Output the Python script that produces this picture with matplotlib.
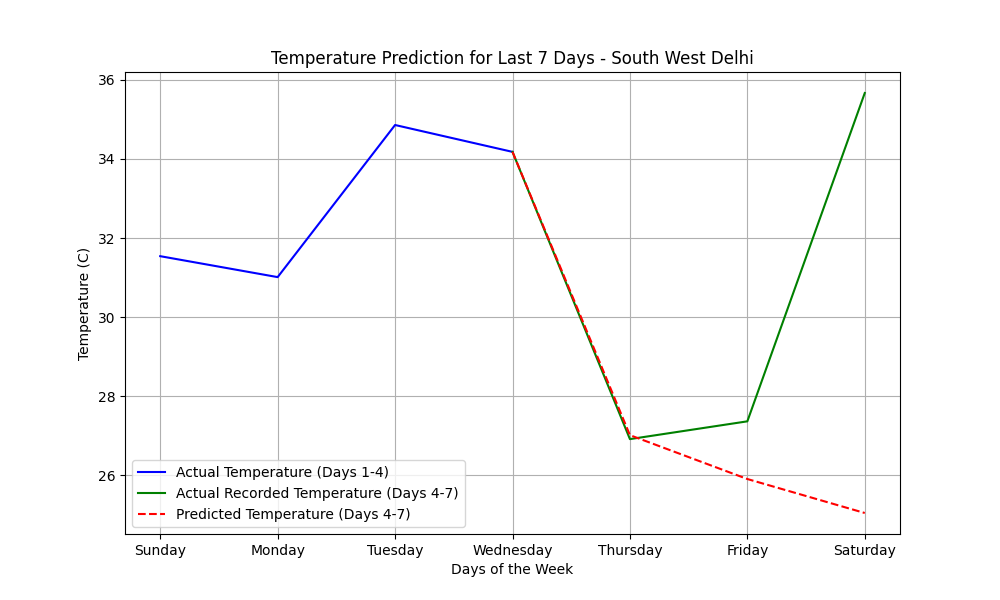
import matplotlib
matplotlib.use("Agg")
import matplotlib.pyplot as plt

days = ['Sunday', 'Monday', 'Tuesday', 'Wednesday', 'Thursday', 'Friday', 'Saturday']

actual_first = [31.54, 31.01, 34.86, 34.18]
actual_last = [34.18, 26.91, 27.36, 35.67]
predicted_last = [34.18, 27.01, 25.90, 25.04]

fig, ax = plt.subplots(figsize=(10, 6), dpi=100)

ax.plot(days[:4], actual_first, color='blue', label='Actual Temperature (Days 1-4)')
ax.plot(days[3:], actual_last, color='green', label='Actual Recorded Temperature (Days 4-7)')
ax.plot(days[3:], predicted_last, color='red', linestyle='--', label='Predicted Temperature (Days 4-7)')

ax.set_title('Temperature Prediction for Last 7 Days - South West Delhi')
ax.set_xlabel('Days of the Week')
ax.set_ylabel('Temperature (C)')
ax.legend(loc='lower left')
ax.grid(True)

plt.savefig('out.png')
